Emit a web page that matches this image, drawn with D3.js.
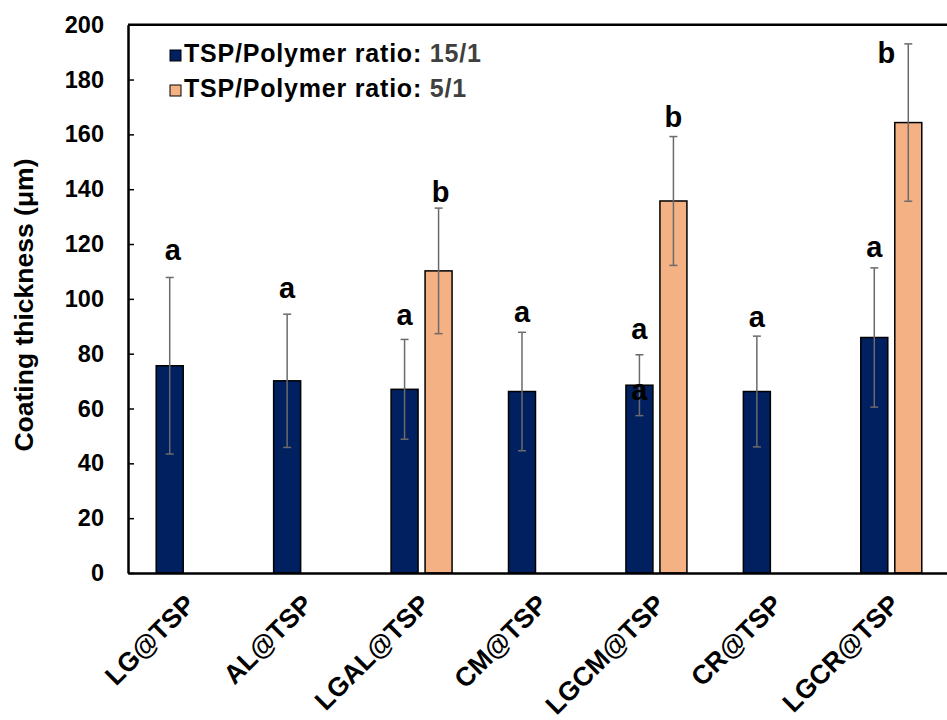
<!DOCTYPE html>
<html>
<head>
<meta charset="utf-8">
<script src="https://cdn.jsdelivr.net/npm/d3@7/dist/d3.min.js"></script>
<style>
  html, body { margin: 0; padding: 0; background: #fff; }
  svg { display: block; }
  text { font-family: "Liberation Sans", Arial, sans-serif; font-weight: bold; }
</style>
</head>
<body>
<svg id="chart" width="947" height="720"></svg>
<script>
// ---------- data ----------
const categories = ["LG@TSP", "AL@TSP", "LGAL@TSP", "CM@TSP", "LGCM@TSP", "CR@TSP", "LGCR@TSP"];
const seriesNames = ["TSP/Polymer ratio: ", "TSP/Polymer ratio: "];
const seriesRatios = ["15/1", "5/1"];
const seriesKeys = ["r15", "r5"];
const seriesColors = ["#00205F", "#F4B183"];
// ratio 15/1 (all categories)
const values15 = [75.6, 70.1, 67.0, 66.2, 68.5, 66.2, 85.9];
const errors15 = [32.2, 24.3, 18.2, 21.6, 11.1, 20.2, 25.4];
// ratio 5/1 (only blends)
const values5 = [null, null, 110.2, null, 135.7, null, 164.3];
const errors5 = [null, null, 22.9, null, 23.5, null, 28.7];
const yTicks = [0, 20, 40, 60, 80, 100, 120, 140, 160, 180, 200];
// significance letters
const letterCats   = ["LG@TSP", "AL@TSP", "LGAL@TSP", "LGAL@TSP", "CM@TSP", "LGCM@TSP", "LGCM@TSP", "LGCM@TSP", "CR@TSP", "LGCR@TSP", "LGCR@TSP"];
const letterSeries = ["r15", "r15", "r15", "r5", "r15", "r15", "r15", "r5", "r15", "r15", "r5"];
const letterText   = ["a", "a", "a", "b", "a", "a", "a", "b", "a", "a", "b"];
const letterValues = [114.2, 100.4, 90.5, 135.5, 91.7, 85.3, 63.1, 162.7, 89.9, 115.3, 186.0];
const letterNudge  = [3, 0, 0, 2, 0, 0, 0, 0, 0, 0, -22];

// ---------- layout ----------
const svg = d3.select("#chart");
const mLeft = 128, mRight = 950, mTop = 24.7, mBottom = 573;

const x = d3.scaleBand().domain(categories).range([mLeft, mRight]).paddingInner(0).paddingOuter(0);
const xs = d3.scaleBand().domain(seriesKeys).range([0, x.bandwidth()]).paddingInner(0.206).paddingOuter(0.83);
const y = d3.scaleLinear().domain([0, 200]).range([mBottom, mTop]);

const rows = [];
categories.forEach((c, i) => {
  rows.push({cat: c, key: "r15", v: values15[i], e: errors15[i], color: seriesColors[0]});
  if (values5[i] != null) rows.push({cat: c, key: "r5", v: values5[i], e: errors5[i], color: seriesColors[1]});
});

// bars
svg.append("g").selectAll("rect").data(rows).join("rect")
  .attr("x", d => x(d.cat) + xs(d.key))
  .attr("width", xs.bandwidth())
  .attr("y", d => y(d.v))
  .attr("height", d => y(0) - y(d.v))
  .attr("fill", d => d.color)
  .attr("stroke", "#000")
  .attr("stroke-width", 1.5);

// error bars
const eg = svg.append("g").attr("stroke", "#6b6b6b").attr("stroke-width", 1.5);
rows.forEach(d => {
  const cx = x(d.cat) + xs(d.key) + xs.bandwidth() / 2;
  eg.append("line").attr("x1", cx).attr("x2", cx).attr("y1", y(d.v + d.e)).attr("y2", y(d.v - d.e));
  [d.v + d.e, d.v - d.e].forEach(v => {
    eg.append("line").attr("x1", cx - 4).attr("x2", cx + 4).attr("y1", y(v)).attr("y2", y(v));
  });
});

// letters
svg.append("g").selectAll("text").data(letterText).join("text")
  .attr("x", (t, i) => x(letterCats[i]) + xs(letterSeries[i]) + xs.bandwidth() / 2 + letterNudge[i])
  .attr("y", (t, i) => y(letterValues[i]))
  .attr("text-anchor", "middle")
  .attr("font-size", 29)
  .attr("fill", "#000")
  .text(t => t);

// frame: top border
svg.append("line").attr("x1", mLeft).attr("x2", mRight).attr("y1", mTop).attr("y2", mTop)
  .attr("stroke", "#000").attr("stroke-width", 2.5);

// y axis
const yAxis = d3.axisLeft(y).tickValues(yTicks).tickSizeInner(-6).tickSizeOuter(0).tickPadding(24);
const ya = svg.append("g").attr("transform", `translate(${mLeft},0)`).call(yAxis);
ya.select(".domain").attr("stroke", "#000").attr("stroke-width", 2.5);
ya.selectAll(".tick line").attr("stroke", "#000").attr("stroke-width", 1.5);
ya.selectAll(".tick text").attr("font-size", 23.5).attr("fill", "#000")
  .attr("font-family", "'Liberation Sans', Arial, sans-serif").attr("font-weight", "bold");

// x axis
const xAxis = d3.axisBottom(x).tickSize(0).tickPadding(0);
const xa = svg.append("g").attr("transform", `translate(0,${mBottom})`).call(xAxis);
xa.select(".domain").attr("stroke", "#000").attr("stroke-width", 2.5);
xa.selectAll(".tick text")
  .attr("font-size", 26.5).attr("fill", "#000")
  .attr("font-family", "'Liberation Sans', Arial, sans-serif").attr("font-weight", "bold")
  .attr("text-anchor", "end")
  .attr("dy", 0)
  .attr("transform", "translate(10,33) rotate(-45)");

// y title
svg.append("text")
  .attr("transform", "translate(33,305) rotate(-90)")
  .attr("text-anchor", "middle")
  .attr("font-size", 26.5)
  .attr("fill", "#000")
  .text("Coating thickness (μm)");

// legend
const lg = svg.append("g");
seriesKeys.forEach((k, i) => {
  const by = 62 + i * 35;
  lg.append("rect").attr("x", 170).attr("y", by - 12).attr("width", 11).attr("height", 11)
    .attr("fill", seriesColors[i]).attr("stroke", "#000").attr("stroke-width", 1);
  const t = lg.append("text").attr("x", 184).attr("y", by).attr("font-size", 25)
    .attr("letter-spacing", 0.8).attr("fill", "#000");
  t.append("tspan").text(seriesNames[i]);
  t.append("tspan").attr("fill", "#404040").text(seriesRatios[i]);
});
</script>
</body>
</html>
